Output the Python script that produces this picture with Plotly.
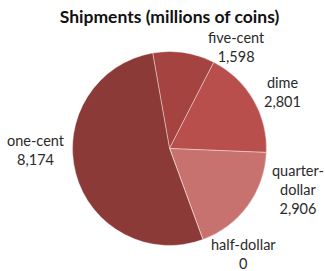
import plotly.graph_objects as go

labels = ["five-cent", "dime", "quarter-dollar", "half-dollar", "one-cent"]
label_text = ["five-cent", "dime", "quarter-<br>dollar", "half-dollar", "one-cent"]
values = [1598, 2801, 2906, 0, 8174]
colors = ["#A54341", "#B84F4D", "#C87270", "#C06060", "#8C3A37"]

# layout: pie geometry and label offsets (pixels from pie centre)
W, H = 325, 271
CX, CY, R = 169.5, 148.5, 97
label_dx = [67, 113, 128, 74, -134]
label_dy = [-102, -56, 41, 105, 1]

fig = go.Figure(go.Pie(
    labels=labels,
    values=values,
    sort=False,
    direction="clockwise",
    rotation=-10,
    marker=dict(colors=colors, line=dict(color="rgba(255,255,255,0.55)", width=0.7)),
    textinfo="none",
    showlegend=False,
    hoverinfo="label+value",
    domain=dict(x=[(CX - R) / W, (CX + R) / W], y=[1 - (CY + R) / H, 1 - (CY - R) / H]),
))

for t, v, dx, dy in zip(label_text, values, label_dx, label_dy):
    fig.add_annotation(
        x=(CX + dx) / W, y=1 - (CY + dy) / H, xref="paper", yref="paper",
        text=f"{t}<br>{v:,}", showarrow=False, xanchor="center", yanchor="middle",
        align="center", font=dict(family="Lato", size=14.5, color="#2a2a2a"),
    )

fig.update_layout(
    width=W, height=H,
    margin=dict(l=0, r=0, t=0, b=0),
    title=dict(text="<b>Shipments (millions of coins)</b>", x=169.5 / W, xanchor="center",
               y=1 - 17 / H, yanchor="middle",
               font=dict(family="Lato", size=17.5, color="#111111")),
    paper_bgcolor="white",
)

fig.write_html("out.html", config={"displayModeBar": False},
               post_script="document.body.style.margin='0';document.body.style.overflow='hidden';")
